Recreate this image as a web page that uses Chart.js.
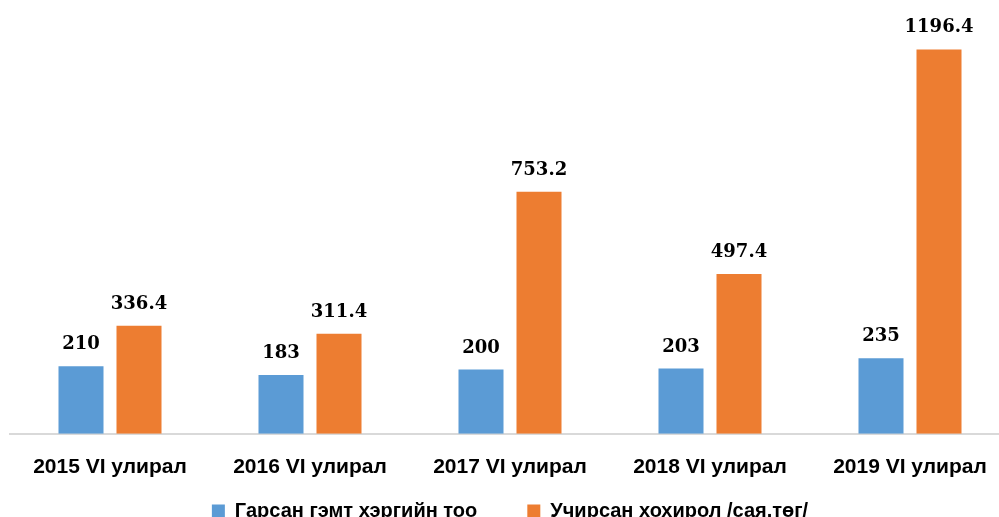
<!DOCTYPE html>
<html>
<head>
<meta charset="utf-8">
<script src="https://cdn.jsdelivr.net/npm/chart.js@4"></script>
<style>
  html, body { margin: 0; padding: 0; background: #fff; overflow: hidden; width: 999px; height: 517px; }
  #wrap { position: absolute; left: 0; top: -16px; }
</style>
</head>
<body>
<div id="wrap"><canvas id="grafico" width="1010" height="547"></canvas></div>
<script>
// Datos de la gráfica
const categorias = ["2015 VI улирал", "2016 VI улирал", "2017 VI улирал", "2018 VI улирал", "2019 VI улирал"];
const gemtHereg = [210, 183, 200, 203, 235];
const hohirol = [336.4, 311.4, 753.2, 497.4, 1196.4];
const nombresSeries = ["Гарсан гэмт хэргийн тоо", "Учирсан хохирол /сая.төг/"];

// Plugin sencillo para escribir el valor encima de cada barra
const etiquetasValor = {
    id: "etiquetasValor",
    afterDatasetsDraw(chart) {
        const ctx = chart.ctx;
        ctx.save();
        ctx.font = "bold 18px 'DejaVu Serif'";
        ctx.fillStyle = "#000";
        ctx.textAlign = "center";
        ctx.textBaseline = "alphabetic";
        chart.data.datasets.forEach((ds, i) => {
            chart.getDatasetMeta(i).data.forEach((bar, j) => {
                const p = bar.getProps(["x", "y"], true);
                ctx.fillText(String(ds.data[j]), p.x, p.y - 17);
            });
        });
        ctx.restore();
    }
};

const ctx = document.getElementById("grafico").getContext("2d");
new Chart(ctx, {
    type: "bar",
    data: {
        labels: categorias,
        datasets: [{
            label: nombresSeries[0],
            data: gemtHereg,
            backgroundColor: "#5B9BD5"
        }, {
            label: nombresSeries[1],
            data: hohirol,
            backgroundColor: "#ED7D31"
        }]
    },
    options: {
        responsive: false,
        animation: false,
        layout: { padding: { left: 10, right: 0, top: 0, bottom: 0 } },
        datasets: { bar: { categoryPercentage: 0.58, barPercentage: 0.776 } },
        scales: {
            x: {
                grid: { display: false, drawTicks: false },
                border: { color: "#d9d9d9", width: 2 },
                ticks: {
                    color: "#000",
                    padding: 21,
                    font: { family: "'Liberation Sans'", size: 21, weight: "bold" }
                }
            },
            y: {
                display: false,
                min: 0,
                max: 1400
            }
        },
        plugins: {
            tooltip: { enabled: false },
            legend: {
                position: "bottom",
                labels: {
                    color: "#000",
                    boxWidth: 13,
                    boxHeight: 13,
                    padding: 0,
                    font: { family: "'Liberation Sans'", size: 20, weight: "bold" },
                    // más espacio entre los dos elementos de la leyenda
                    generateLabels(chart) {
                        const items = Chart.defaults.plugins.legend.labels.generateLabels(chart);
                        items[0].text += "         ";
                        return items;
                    }
                }
            }
        }
    },
    plugins: [etiquetasValor]
});
</script>
</body>
</html>
